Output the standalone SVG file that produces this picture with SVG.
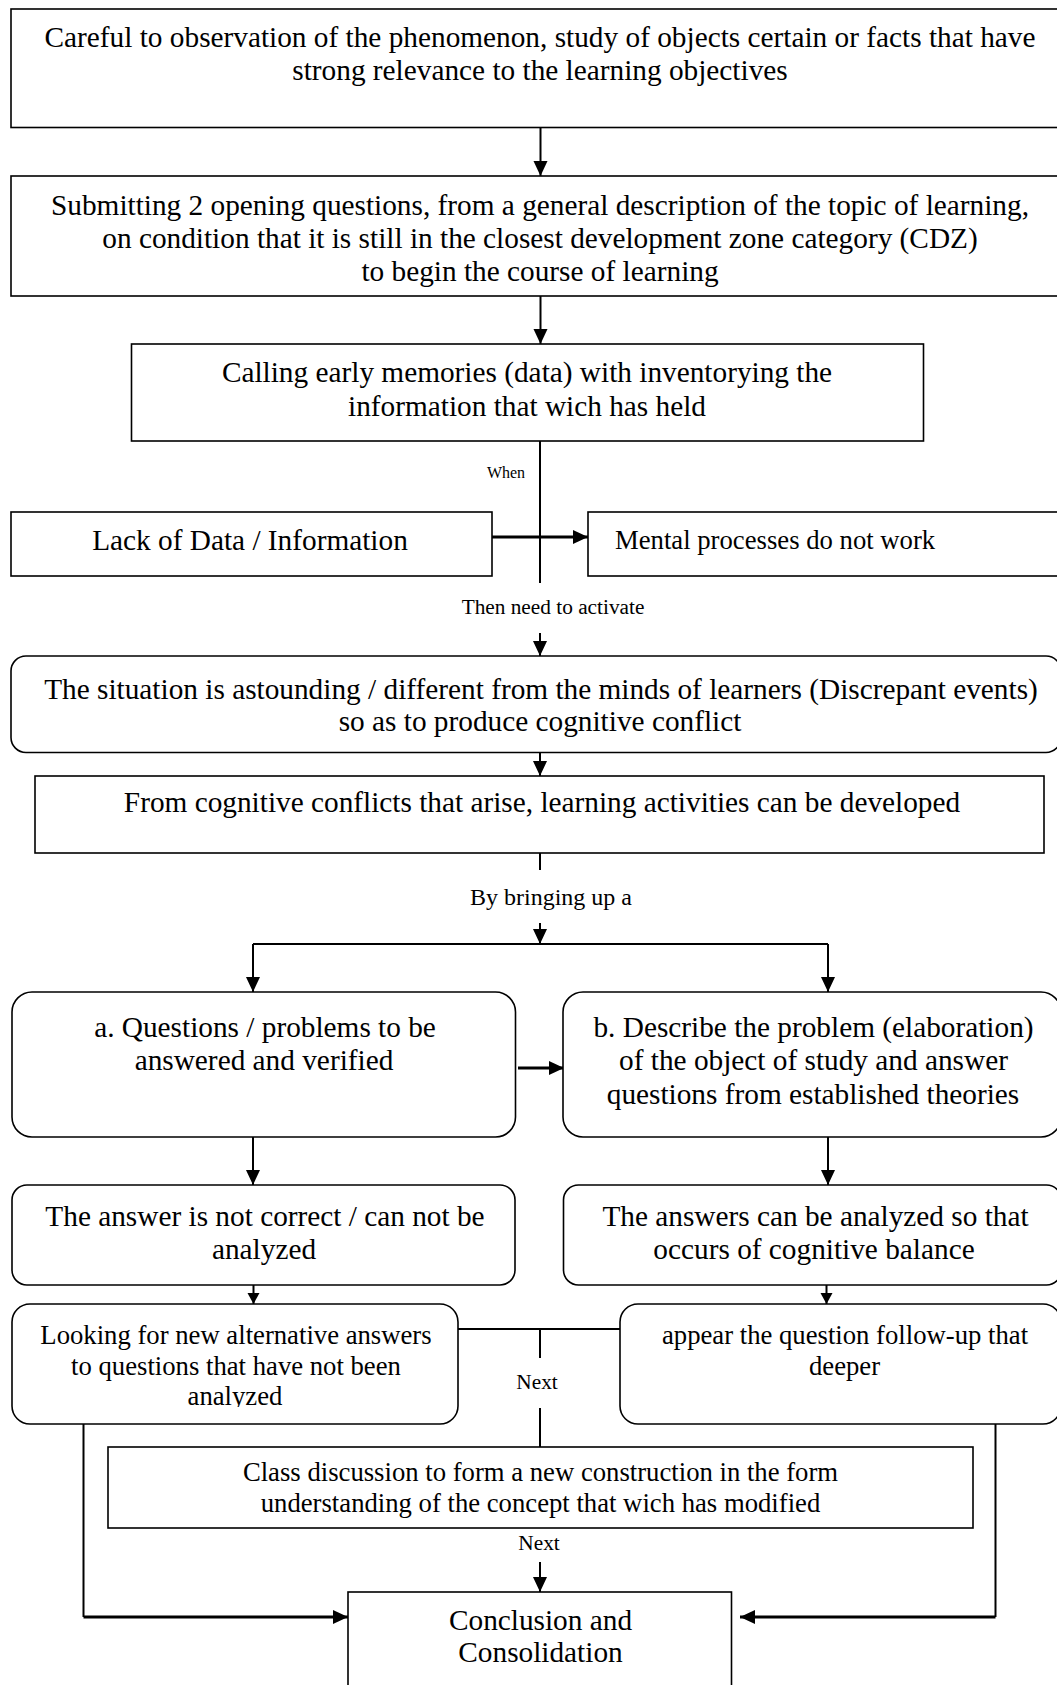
<svg xmlns="http://www.w3.org/2000/svg" width="1057" height="1685" viewBox="0 0 1057 1685">
<style>
  .box{fill:#fff;stroke:#000;stroke-width:1.6}
  .t{font-family:"Liberation Serif","Times New Roman",serif;fill:#000;text-anchor:middle}
  .f29{font-size:29.3px}
  .f27{font-size:26.7px}
  .f24{font-size:24px}
  .f21{font-size:21.3px}
  .f16{font-size:16px}
  .l{text-anchor:start}
  .c{fill:none;stroke:#000;stroke-width:2}
  .k{stroke-width:2.8}
</style>
<defs>
  <marker id="ah" markerUnits="userSpaceOnUse" markerWidth="16" markerHeight="15" refX="15" refY="7" orient="auto">
    <path d="M0,0L15,7L0,14z" fill="#000"/>
  </marker>
  <marker id="ahs" markerUnits="userSpaceOnUse" markerWidth="12" markerHeight="13" refX="11" refY="6" orient="auto">
    <path d="M0,0L11,6L0,12z" fill="#000"/>
  </marker>
  <clipPath id="clipE"><rect x="12" y="1380" width="446" height="27"/></clipPath>
</defs>
<rect width="1057" height="1685" fill="#fff"/>

<g id="connectors">
  <path class="c" d="M540.5,128V176" marker-end="url(#ah)"/>
  <path class="c" d="M540.5,296V344" marker-end="url(#ah)"/>
  <path class="c" d="M540,441V583"/>
  <path class="c k" d="M492,537H588" marker-end="url(#ah)"/>
  <path class="c" d="M540,633V656" marker-end="url(#ah)"/>
  <path class="c" d="M540,753V776" marker-end="url(#ah)"/>
  <path class="c" d="M540,853V870"/>
  <path class="c" d="M540,923V944" marker-end="url(#ah)"/>
  <path class="c" d="M253,944H828"/>
  <path class="c" d="M253,944V992" marker-end="url(#ah)"/>
  <path class="c" d="M828,944V992" marker-end="url(#ah)"/>
  <path class="c k" d="M518,1068H564" marker-end="url(#ah)"/>
  <path class="c" d="M253,1137V1185" marker-end="url(#ah)"/>
  <path class="c" d="M828,1137V1185" marker-end="url(#ah)"/>
  <path class="c" d="M253.5,1285V1304" marker-end="url(#ahs)"/>
  <path class="c" d="M826.5,1285V1304" marker-end="url(#ahs)"/>
  <path class="c" d="M458,1329H620"/>
  <path class="c" d="M540,1329V1358"/>
  <path class="c" d="M540,1408V1447"/>
  <path class="c" d="M540,1562V1592" marker-end="url(#ah)"/>
  <path class="c" d="M83.5,1424V1617"/>
  <path class="c k" d="M83.5,1617H348" marker-end="url(#ah)"/>
  <path class="c" d="M995.5,1424V1617"/>
  <path class="c k" d="M995.5,1617H740" marker-end="url(#ah)"/>
  <text class="t f16" x="506" y="478">When</text>
  <text class="t f21" x="553" y="614">Then need to activate</text>
  <text class="t f24" x="551" y="905">By bringing up a</text>
  <text class="t f21" x="537" y="1389">Next</text>
  <text class="t f21" x="539" y="1550">Next</text>
</g>

<g id="n1">
  <rect class="box" x="11" y="9" width="1055" height="118.5"/>
  <text class="t f29" x="540" y="47">Careful to observation of the phenomenon, study of objects certain or facts that have</text>
  <text class="t f29" x="540" y="80">strong relevance to the learning objectives</text>
</g>
<g id="n2">
  <rect class="box" x="11" y="176" width="1055" height="120"/>
  <text class="t f29" x="540" y="215">Submitting 2 opening questions, from a general description of the topic of learning,</text>
  <text class="t f29" x="540" y="248">on condition that it is still in the closest development zone category (CDZ)</text>
  <text class="t f29" x="540" y="281">to begin the course of learning</text>
</g>
<g id="n3">
  <rect class="box" x="131.5" y="344" width="792" height="97"/>
  <text class="t f29" x="527" y="382">Calling early memories (data) with inventorying the</text>
  <text class="t f29" x="527" y="416">information that wich has held</text>
</g>
<g id="n4">
  <rect class="box" x="11" y="512" width="481" height="64"/>
  <text class="t f29" x="250" y="550">Lack of Data / Information</text>
</g>
<g id="n5">
  <rect class="box" x="588" y="512" width="478" height="64"/>
  <text class="t f27 l" x="615" y="549">Mental processes do not work</text>
</g>
<g id="n6">
  <rect class="box" x="11" y="656" width="1050" height="96.5" rx="15" ry="15"/>
  <text class="t f29" x="541" y="699">The situation is astounding / different from the minds of learners (Discrepant events)</text>
  <text class="t f29" x="540" y="731">so as to produce cognitive conflict</text>
</g>
<g id="n7">
  <rect class="box" x="35" y="776" width="1009" height="77"/>
  <text class="t f29" x="542" y="812">From cognitive conflicts that arise, learning activities can be developed</text>
</g>
<g id="n8">
  <rect class="box" x="12" y="992" width="503.5" height="145" rx="20" ry="20"/>
  <text class="t f29" x="265" y="1037">a. Questions / problems to be</text>
  <text class="t f29" x="264" y="1070">answered and verified</text>
</g>
<g id="n9">
  <rect class="box" x="563" y="992" width="498" height="145" rx="20" ry="20"/>
  <text class="t f29" x="813.5" y="1037">b. Describe the problem (elaboration)</text>
  <text class="t f29" x="813.5" y="1070">of the object of study and answer</text>
  <text class="t f29" x="813" y="1104">questions from established theories</text>
</g>
<g id="n10">
  <rect class="box" x="12" y="1185" width="503" height="100" rx="15" ry="15"/>
  <text class="t f29" x="265" y="1226">The answer is not correct / can not be</text>
  <text class="t f29" x="264" y="1259">analyzed</text>
</g>
<g id="n11">
  <rect class="box" x="563.5" y="1185" width="498" height="100" rx="15" ry="15"/>
  <text class="t f29" x="815.5" y="1226">The answers can be analyzed so that</text>
  <text class="t f29" x="814" y="1259">occurs of cognitive balance</text>
</g>
<g id="n12">
  <rect class="box" x="12" y="1304" width="446" height="120" rx="18" ry="18"/>
  <text class="t f27" x="236" y="1344">Looking for new alternative answers</text>
  <text class="t f27" x="236" y="1375">to questions that have not been</text>
  <text class="t f27" x="235" y="1405" clip-path="url(#clipE)">analyzed</text>
</g>
<g id="n13">
  <rect class="box" x="620" y="1304" width="441" height="120" rx="18" ry="18"/>
  <text class="t f27" x="845" y="1344">appear the question follow-up that</text>
  <text class="t f27" x="844.5" y="1375">deeper</text>
</g>
<g id="n14">
  <rect class="box" x="108" y="1447" width="865" height="81"/>
  <text class="t f27" x="540.5" y="1481">Class discussion to form a new construction in the form</text>
  <text class="t f27" x="540.5" y="1512">understanding of the concept that wich has modified</text>
</g>
<g id="n15">
  <rect class="box" x="348" y="1592" width="383.5" height="110"/>
  <text class="t f29" x="540.5" y="1630">Conclusion and</text>
  <text class="t f29" x="540.5" y="1662">Consolidation</text>
</g>
</svg>
